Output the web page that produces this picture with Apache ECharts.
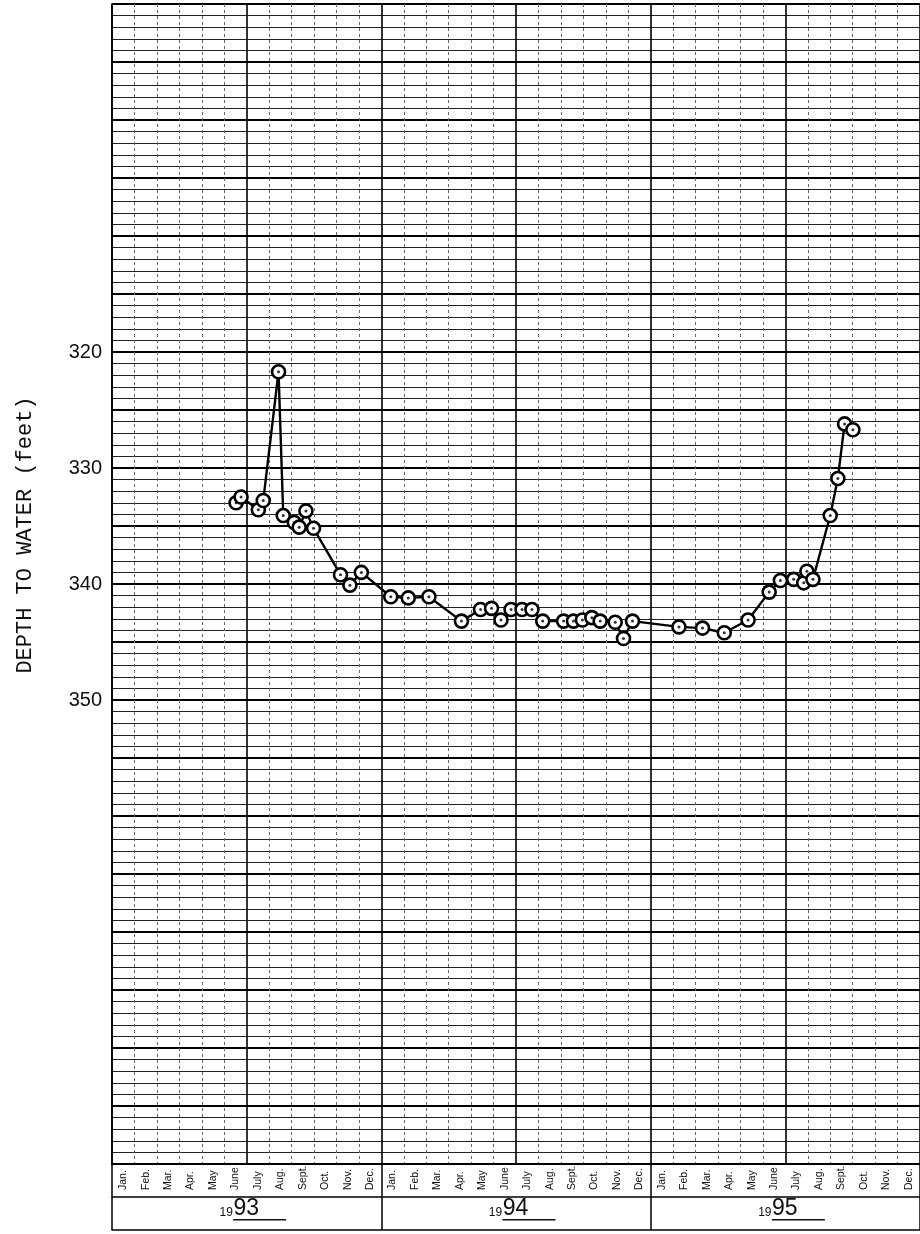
<!DOCTYPE html>
<html><head><meta charset="utf-8">
<script src="https://cdn.jsdelivr.net/npm/echarts@6/dist/echarts.min.js"></script>
<style>html,body{margin:0;padding:0;background:#fff}#c{width:920px;height:1234px}</style>
</head><body><div id="c"></div>
<script>
// ---- data ----
const monthNames = ['Jan.','Feb.','Mar.','Apr.','May','June','July','Aug.','Sept.','Oct.','Nov.','Dec.'];
const years = ['1993','1994','1995'];
const yTickLabels = [320, 330, 340, 350];
const obsMonth = [
  5.53, 5.75, 6.52, 6.74, 7.42, 7.63, 8.12, 8.34, 8.64, 8.98, 10.18, 10.60, 11.11,
  12.42, 13.20, 14.12, 15.57, 16.42, 16.91, 17.33, 17.78, 18.27, 18.71, 19.19, 20.12,
  20.56, 20.96, 21.38, 21.75, 22.42, 22.79, 23.19,
  25.26, 26.31, 27.28, 28.34, 29.28, 29.78, 30.37, 30.82, 30.96, 31.23, 32.00, 32.34,
  32.64, 33.01
];
// depth to water, feet
const depthFt = [
  333.0, 332.5, 333.6, 332.8, 321.7, 334.1, 334.7, 335.1, 333.7, 335.2, 339.2, 340.1, 339.0,
  341.1, 341.2, 341.1, 343.2, 342.2, 342.1, 343.1, 342.2, 342.2, 342.2, 343.2, 343.2,
  343.2, 343.1, 342.9, 343.2, 343.3, 344.7, 343.2,
  343.7, 343.8, 344.2, 343.1, 340.7, 339.7, 339.6, 339.9, 338.9, 339.6, 334.1, 330.9,
  326.2, 326.7
];

const monthCategories = years.flatMap(() => monthNames);
const points = obsMonth.map((m, i) => [m, depthFt[i]]);

const chart = echarts.init(document.getElementById('c'), null, {renderer: 'canvas'});
chart.setOption({
  animation: false,
  backgroundColor: '#fff',
  grid: {left: 112, top: 4, width: 810, height: 1160, containLabel: false},
  graphic: [{
    type: 'text', x: 25, y: 535, rotation: Math.PI / 2,
    style: {text: 'DEPTH TO WATER (feet)', font: '22px "Liberation Mono", monospace',
            fill: '#111', align: 'center', verticalAlign: 'middle'}
  }],
  xAxis: [
    { type: 'value', min: 0, max: 36, interval: 6, position: 'bottom',
      axisLine: {show: false}, axisTick: {show: false}, axisLabel: {show: false},
      splitLine: {show: true, lineStyle: {color: '#000', width: 1.6}},
      minorTick: {show: false, splitNumber: 6},
      minorSplitLine: {show: true, lineStyle: {color: '#666', width: 1, type: [3, 3]}}
    },
    { type: 'category', data: monthCategories, position: 'bottom', offset: 0, boundaryGap: true,
      axisLine: {show: true, lineStyle: {color: '#000', width: 2}}, axisTick: {show: false},
      axisLabel: {interval: 0, rotate: 90, align: 'left', verticalAlign: 'middle', margin: 26,
                  fontFamily: '"Liberation Sans", Arial, sans-serif', fontSize: 10.5, color: '#111'},
      splitLine: {show: false}
    },
    { type: 'category', data: years, position: 'bottom', offset: 33, boundaryGap: true,
      axisLine: {show: true, lineStyle: {color: '#000', width: 1.5}}, axisTick: {show: false},
      axisLabel: {interval: 0, margin: 2, padding: [0, 0, 0, 12], color: '#111',
        formatter: v => '{s|19}{b|' + v.slice(2) + '}{g|}\n{p|}{u|}',
        rich: {
          s: {fontSize: 12, fontFamily: '"Liberation Sans", Arial, sans-serif', color: '#111',
              verticalAlign: 'bottom', lineHeight: 14, width: 14},
          b: {fontSize: 23, fontFamily: '"Liberation Sans", Arial, sans-serif', color: '#111',
              lineHeight: 20, width: 26},
          g: {width: 27, height: 1},
          p: {width: 14, height: 1.5},
          u: {width: 53, height: 1.5, backgroundColor: '#111'}
        }},
      splitLine: {show: false}
    },
    { type: 'category', data: years, position: 'bottom', offset: 66, boundaryGap: true,
      axisLine: {show: true, lineStyle: {color: '#000', width: 1.5}},
      axisTick: {show: true, inside: true, length: 66, lineStyle: {color: '#000', width: 1.5}},
      axisLabel: {show: false}, splitLine: {show: false}
    }
  ],
  yAxis: [{
    type: 'value', inverse: true, min: 290, max: 390, interval: 5,
    axisLine: {show: true, lineStyle: {color: '#000', width: 1.6}},
    axisTick: {show: false},
    axisLabel: {margin: 10, color: '#111', fontSize: 20,
                fontFamily: '"Liberation Sans", Arial, sans-serif',
                formatter: v => yTickLabels.includes(v) ? String(v) : ''},
    splitLine: {show: true, lineStyle: {color: '#000', width: 2}},
    minorTick: {show: false, splitNumber: 5},
    minorSplitLine: {show: true, lineStyle: {color: '#222', width: 1}}
  }],
  series: [
    { type: 'line', data: points, xAxisIndex: 0, yAxisIndex: 0,
      symbol: 'circle', symbolSize: 13, showAllSymbol: true,
      lineStyle: {color: '#000', width: 2.4},
      itemStyle: {color: '#fff', borderColor: '#000', borderWidth: 2.6},
      z: 3
    },
    { type: 'scatter', data: points, xAxisIndex: 0, yAxisIndex: 0,
      symbol: 'circle', symbolSize: 3, itemStyle: {color: '#000'}, z: 4, silent: true
    }
  ]
});
</script>
</body></html>
